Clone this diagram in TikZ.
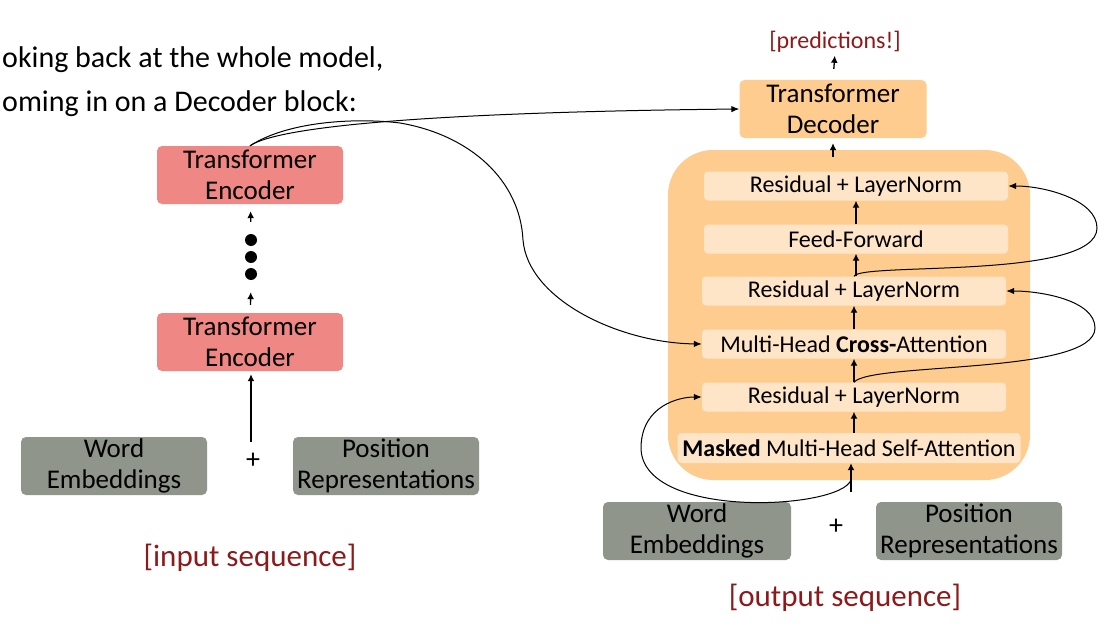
\documentclass[tikz,border=0pt]{standalone}
\usepackage{fontspec}
\setmainfont{Carlito}
\usetikzlibrary{arrows.meta}
\definecolor{encC}{RGB}{239,135,133}
\definecolor{embC}{RGB}{143,149,139}
\definecolor{decC}{RGB}{255,204,143}
\definecolor{innC}{RGB}{255,229,199}
\definecolor{redC}{RGB}{140,26,26}
\begin{document}
\begin{tikzpicture}[x=1pt,y=-1pt,
  box/.style={rounded corners=5pt, minimum width=186pt, minimum height=58pt, align=center, font=\fontsize{27}{31}\selectfont, inner sep=0pt},
  enc/.style={box, fill=encC},
  emb/.style={box, fill=embC},
  decb/.style={box, fill=decC},
  region/.style={fill=decC, rounded corners=45pt, minimum width=362pt, minimum height=330pt, inner sep=0pt},
  inbox/.style={fill=innC, rounded corners=4pt, minimum width=304pt, minimum height=29pt, font=\fontsize{24}{28}\selectfont, inner sep=0pt},
  arr/.style={-{Latex[length=7pt,width=7pt]}, line width=1.3pt},
  lnk/.style={-{Latex[length=8pt,width=6.5pt]}, line width=1pt},
  dot/.style={circle, fill=black, minimum size=12pt, inner sep=0pt},
  lbl/.style={text=redC, inner sep=0pt},
  plain/.style={font=\fontsize{28}{31}\selectfont, inner sep=0pt}
]
\useasboundingbox (0,0) rectangle (1109,626);

% header
\node[anchor=base west, font=\fontsize{30}{36}\selectfont, inner sep=0pt] (h1) at (2,67) {oking back at the whole model,};
\node[anchor=base west, font=\fontsize{30}{36}\selectfont, inner sep=0pt] (h2) at (2,111) {oming in on a Decoder block:};

% encoder side
\node[enc] (e2) at (250,175) {Transformer\\Encoder};
\node[dot] (d1) at (251,240) {};
\node[dot] (d2) at (251,257) {};
\node[dot] (d3) at (251,274) {};
\node[enc] (e1) at (250,342) {Transformer\\Encoder};
\node[emb] (we1) at (114,466) {Word\\Embeddings};
\node[emb] (pr1) at (386,466) {Position\\Representations};
\node[plain] (p1) at (253,461) {+};
\node[lbl, font=\fontsize{31}{36}\selectfont] (ins) at (250,558) {[input sequence]};
\coordinate (inA) at (251,442);

\draw[arr, shorten <=12pt, shorten >=7pt] (d1) -- (e2);
\draw[arr, shorten <=8pt, shorten >=12pt] (e1) -- (d3);
\draw[arr, line width=1.7pt, shorten >=3pt] (inA) -- (inA |- e1.south);

% decoder side
\node[lbl, font=\fontsize{24}{28}\selectfont] (pred) at (835,42) {[predictions!]};
\node[decb, minimum width=187pt] (dec) at (833,109) {Transformer\\Decoder};
\node[region] (blk) at (849,315) {};
\node[inbox] (r3) at (856,186) {Residual + LayerNorm};
\node[inbox] (ff) at (856,239) {Feed-Forward};
\node[inbox] (r2) at (854,291) {Residual + LayerNorm};
\node[inbox] (ca) at (854,344) {Multi-Head \textbf{Cross-}Attention};
\node[inbox] (r1) at (854,397) {Residual + LayerNorm};
\node[inbox, minimum width=343pt, minimum height=30pt] (ms) at (849,448) {\textbf{Masked} Multi-Head Self-Attention};
\node[emb, minimum width=188pt] (we2) at (697,531) {Word\\Embeddings};
\node[emb] (pr2) at (969,531) {Position\\Representations};
\node[plain] (p2) at (836,527) {+};
\node[lbl, font=\fontsize{31}{36}\selectfont] (outs) at (845,598) {[output sequence]};
\coordinate (din) at (851,492);
\coordinate (lpA) at (851,480);

\draw[arr, shorten <=11pt, shorten >=3pt] (dec.north) -- (pred.south);
\draw[arr, shorten <=-7pt, shorten >=5pt] (dec.south |- blk.north) -- (dec.south);
\draw[arr] (ff.north) -- (r3.south);
\draw[arr] (r2.north -| ff) -- (ff.south);
\draw[arr] (ca.north) -- (r2.south);
\draw[arr] (r1.north) -- (ca.south);
\draw[arr] (r1.south |- ms.north) -- (r1.south);
\draw[arr] (din) -- (din |- ms.south);

% cross connections
\draw[lnk] (e2.north) .. controls (280,125) and (450,112) .. (dec.west);
\draw[lnk] (e2.north) .. controls (290,120) and (360,118) .. (400,123) .. controls (470,135) and (520,180) .. (523,240) .. controls (528,300) and (620,343) .. (ca.west);

% residual loops
\draw[lnk] (lpA) .. controls (840,510) and (640,520) .. (641,447) .. controls (642,405) and (680,397) .. (r1.west);
\draw[lnk] (r1.north) .. controls (870,362) and (1095,375) .. (1095,328) .. controls (1095,300) and (1040,291) .. (r2.east);
\draw[lnk] (r2.north) .. controls (860,262) and (1097,280) .. (1097,228) .. controls (1097,200) and (1045,186) .. (r3.east);
\end{tikzpicture}
\end{document}
